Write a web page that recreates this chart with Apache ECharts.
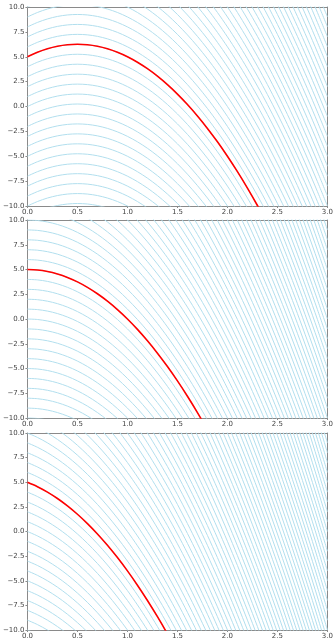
<!DOCTYPE html>
<html>
<head>
<meta charset="utf-8">
<script src="https://cdn.jsdelivr.net/npm/echarts@6/dist/echarts.min.js"></script>
<style>
    html, body { margin: 0; padding: 0; background: #fff; }
    #chart { width: 336px; height: 641px; }
</style>
</head>
<body>
<div id="chart"></div>
<script>
// x positions of the sampled points (same for all three panels)
const xs = [0, 0.1, 0.2, 0.3, 0.4, 0.5, 0.6, 0.7, 0.8, 0.9, 1.0, 1.1, 1.2, 1.3, 1.4, 1.5,
    1.6, 1.7, 1.8, 1.9, 2.0, 2.1, 2.2, 2.3, 2.4, 2.5, 2.6, 2.7, 2.8, 2.9, 3.0]

// red curve
const redTop = [5, 5.45, 5.8, 6.05, 6.2, 6.25, 6.2, 6.05, 5.8, 5.45, 5, 4.45, 3.8, 3.05, 2.2, 1.25,
    0.2, -0.95, -2.2, -3.55, -5, -6.55, -8.2, -9.95, -11.8, -13.75, -15.8, -17.95, -20.2, -22.55, -25]
const redMid = [5, 4.95, 4.8, 4.55, 4.2, 3.75, 3.2, 2.55, 1.8, 0.95, 0, -1.05, -2.2, -3.45, -4.8, -6.25,
    -7.8, -9.45, -11.2, -13.05, -15, -17.05, -19.2, -21.45, -23.8, -26.25, -28.8, -31.45, -34.2, -37.05, -40]
const redBot = [5, 4.55, 4.0, 3.35, 2.6, 1.75, 0.8, -0.25, -1.4, -2.65, -4, -5.45, -7.0, -8.65, -10.4, -12.25,
    -14.2, -16.25, -18.4, -20.65, -23, -25.45, -28.0, -30.65, -33.4, -36.25, -39.2, -42.25, -45.4, -48.65, -52]

// the light blue curves are the red one moved up/down by these amounts
const shifts = [-17, -16, -15, -14, -13, -12, -11, -10, -9, -8, -7, -6, -5, -4, -3, -2, -1, 0,
    1, 2, 3, 4, 5, 6, 7, 8, 9, 10, 11, 12, 13, 14, 15, 16, 17, 18, 19, 20, 21, 22, 23, 24, 25,
    26, 27, 28, 29, 30, 31, 32, 33, 34, 35, 36, 37, 38, 39, 40, 41, 42, 43, 44, 45, 46, 47, 48,
    49, 50, 51, 52, 53, 54, 55, 56, 57, 58, 59, 60, 61, 62]

const xTicks = ['0.0', '0.5', '1.0', '1.5', '2.0', '2.5', '3.0']
const yTicks = ['−10.0', '−7.5', '−5.0', '−2.5', '0.0', '2.5', '5.0', '7.5', '10.0']

const panels = [redTop, redMid, redBot]
const tops = [7, 220, 433]
const heights = [199, 198, 197]

const axisColor = '#8a8a8a'
const labelColor = '#444'
const font = 'DejaVu Sans'

const myChart = echarts.init(document.getElementById('chart'))

const grid = []
const xAxis = []
const yAxis = []
const series = []

panels.forEach((red, i) => {
    grid.push({ left: 26, right: 4, top: tops[i], height: heights[i] })
    xAxis.push({
        gridIndex: i,
        type: 'value',
        min: 0,
        max: 3,
        interval: 0.5,
        axisLine: { show: true, onZero: false, lineStyle: { color: axisColor, width: 1 } },
        axisTick: { show: true, length: 2, lineStyle: { color: axisColor } },
        axisLabel: {
            color: labelColor, fontSize: 7, fontFamily: font, margin: 3,
            formatter: v => xTicks[Math.round(v / 0.5)]
        },
        splitLine: { show: false }
    })
    // top border
    xAxis.push({
        gridIndex: i,
        type: 'value',
        position: 'top',
        min: 0,
        max: 3,
        axisLine: { show: true, onZero: false, lineStyle: { color: axisColor, width: 1 } },
        axisTick: { show: false },
        axisLabel: { show: false },
        splitLine: { show: false }
    })
    yAxis.push({
        gridIndex: i,
        type: 'value',
        min: -10,
        max: 10,
        interval: 2.5,
        axisLine: { show: true, onZero: false, lineStyle: { color: axisColor, width: 1 } },
        axisTick: { show: true, length: 2, lineStyle: { color: axisColor } },
        axisLabel: {
            color: labelColor, fontSize: 7, fontFamily: font, margin: 3,
            formatter: v => yTicks[Math.round((v + 10) / 2.5)]
        },
        splitLine: { show: false }
    })
    // right border
    yAxis.push({
        gridIndex: i,
        type: 'value',
        position: 'right',
        min: -10,
        max: 10,
        axisLine: { show: true, onZero: false, lineStyle: { color: axisColor, width: 1 } },
        axisTick: { show: false },
        axisLabel: { show: false },
        splitLine: { show: false }
    })

    shifts.forEach(s => {
        series.push({
            type: 'line',
            xAxisIndex: i * 2,
            yAxisIndex: i * 2,
            data: xs.map((x, k) => [x, red[k] + s]),
            showSymbol: false,
            smooth: 0.3,
            clip: true,
            silent: true,
            lineStyle: { color: '#b2dfee', width: 1 }
        })
    })
    series.push({
        type: 'line',
        xAxisIndex: i * 2,
        yAxisIndex: i * 2,
        data: xs.map((x, k) => [x, red[k]]),
        showSymbol: false,
        smooth: 0.3,
        clip: true,
        silent: true,
        z: 5,
        lineStyle: { color: '#ff0000', width: 1.6 }
    })
})

myChart.setOption({
    animation: false,
    backgroundColor: '#fff',
    grid: grid,
    xAxis: xAxis,
    yAxis: yAxis,
    series: series
})
</script>
</body>
</html>
